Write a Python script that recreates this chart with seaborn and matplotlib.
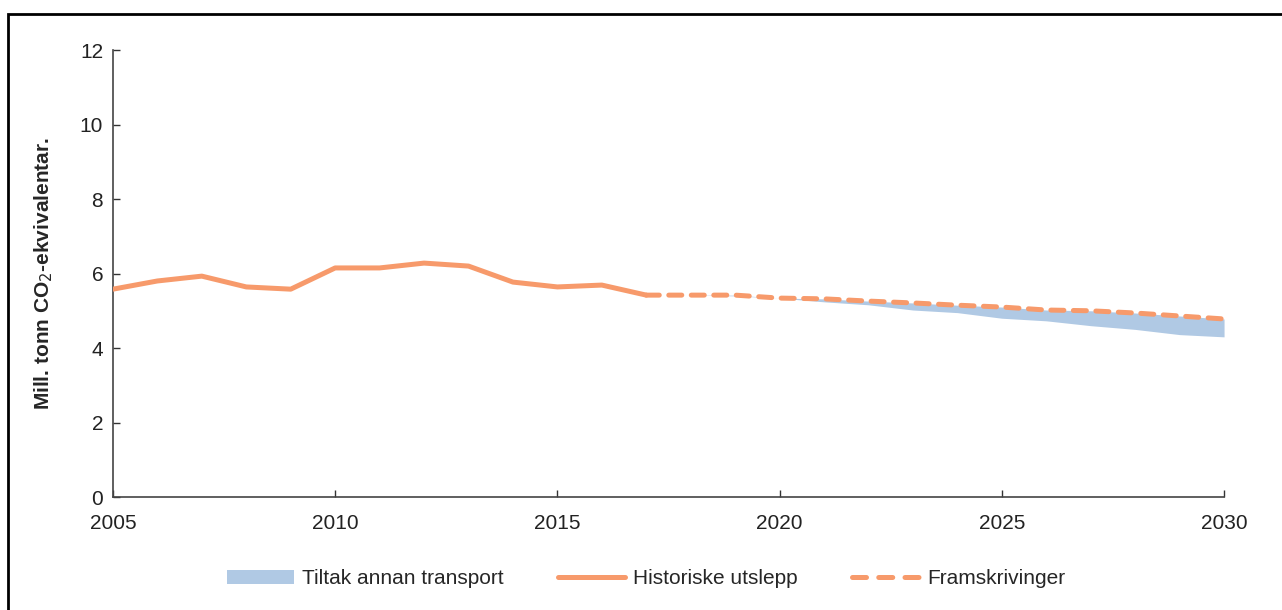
import numpy as np
import pandas as pd
import matplotlib
matplotlib.use("Agg")
import matplotlib.pyplot as plt
import seaborn as sns
from matplotlib.patches import Patch, Rectangle
from matplotlib.lines import Line2D

# Historiske utslepp 2005-2017
hist_years = list(range(2005, 2018))
hist_values = [5.58, 5.80, 5.93, 5.64, 5.58, 6.15, 6.15, 6.28, 6.20, 5.77, 5.64, 5.69, 5.42]

# Framskrivingar 2017-2030
proj_years = list(range(2017, 2031))
proj_values = [5.42, 5.42, 5.42, 5.34, 5.32, 5.26, 5.21, 5.15, 5.10, 5.02, 5.00, 4.94, 4.86, 4.78]

# Nedre kant av tiltak-feltet
tiltak_lower = [5.42, 5.42, 5.40, 5.34, 5.24, 5.16, 5.02, 4.95, 4.80, 4.73, 4.60, 4.50, 4.36, 4.30]

labels = ["Tiltak annan transport", "Historiske utslepp", "Framskrivinger"]
orange = "#F79A6B"
blue = "#B0C9E4"

sns.set_style("ticks")
plt.rcParams['font.family'] = ['Liberation Sans', 'DejaVu Sans']

df_hist = pd.DataFrame({"year": hist_years, "value": hist_values})
df_proj = pd.DataFrame({"year": proj_years, "value": proj_values, "lower": tiltak_lower})

fig = plt.figure(figsize=(12.82, 6.10), dpi=100)
ax = fig.add_axes([0.0881, 0.1852, 0.8667, 0.7328])

ax.fill_between(df_proj["year"], df_proj["lower"], df_proj["value"], color=blue, lw=0, zorder=1)
sns.lineplot(data=df_hist, x="year", y="value", ax=ax, color=orange, lw=3.6, zorder=3,
             solid_capstyle="round", solid_joinstyle="round")
sns.lineplot(data=df_proj, x="year", y="value", ax=ax, color=orange, lw=3.6, zorder=3,
             dashes=False)
ax.lines[-1].set_dashes((2.6, 1.9))
ax.lines[-1].set_dash_capstyle("round")

ax.set_xlim(2005, 2030)
ax.set_ylim(0, 12)
ax.set_xticks(range(2005, 2031, 5))
ax.set_yticks(range(0, 13, 2))
ax.tick_params(direction="in", length=5, width=1, color="#333333", labelsize=15,
               labelcolor="#222222")
ax.tick_params(axis="x", pad=12)
ax.tick_params(axis="y", pad=7)
for s in ["top", "right"]:
    ax.spines[s].set_visible(False)
for s in ["left", "bottom"]:
    ax.spines[s].set_color("#444444")
    ax.spines[s].set_linewidth(1.2)

ax.set_xlabel("")
ax.set_ylabel("Mill. tonn CO$_2$-ekvivalentar.", fontsize=15, fontweight="bold", labelpad=18)

handles = [Patch(facecolor=blue, edgecolor="none"),
           Line2D([], [], color=orange, lw=3.6, solid_capstyle="round"),
           Line2D([], [], color=orange, lw=3.6, dashes=(2.8, 2.45), dash_capstyle="round")]
fig.legend(handles, labels, loc="center", bbox_to_anchor=(0.504, 0.051), ncol=3,
           frameon=False, fontsize=15, handlelength=3.2, handletextpad=0.4,
           columnspacing=2.6)

# ramme rundt figuren
fig.patches.append(Rectangle((8 / 1282, -0.2), 1.5, 0.2 + 596 / 610, transform=fig.transFigure,
                             fill=False, edgecolor="black", lw=2, figure=fig))

fig.savefig("out.png", dpi=100)
